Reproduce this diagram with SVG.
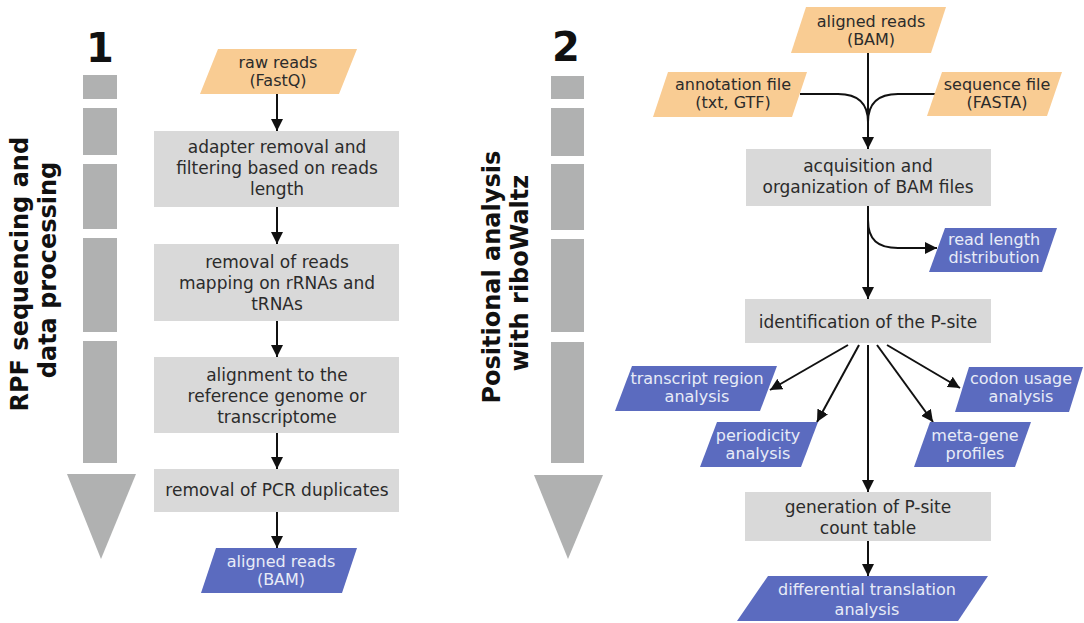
<svg xmlns="http://www.w3.org/2000/svg" width="1084" height="623" viewBox="0 0 1084 623">
  <defs>
    <style>
      .txt { font-family: "DejaVu Sans", Verdana, sans-serif; font-size: 17px; text-anchor: middle; fill: #2b2b2b; }
      .ptxt { font-family: "DejaVu Sans", Verdana, sans-serif; font-size: 16px; text-anchor: middle; fill: #2b2b2b; }
      .wtxt { font-family: "DejaVu Sans", Verdana, sans-serif; font-size: 16px; text-anchor: middle; fill: #e8ebf7; }
      .title { font-family: "DejaVu Sans", Verdana, sans-serif; font-weight: bold; text-anchor: middle; fill: #111; }
      .box { fill: #d9d9d9; }
      .inp { fill: #f9cc93; }
      .out { fill: #5b6bbf; }
      .bar { fill: #b0b1b1; }
      .link { fill: none; stroke: #111; stroke-width: 2; marker-end: url(#arrow); }
      .line { fill: none; stroke: #111; stroke-width: 2; }
    </style>
    <marker id="arrow" viewBox="0 0 12 12" refX="12" refY="6" markerWidth="12" markerHeight="12" markerUnits="userSpaceOnUse" orient="auto">
      <path d="M0,0 L12,6 L0,12 Z" fill="#111"/>
    </marker>
  </defs>

  <rect width="1084" height="623" fill="#ffffff"/>

  <!-- Stage 1 side bar -->
  <g id="stage1-bar">
    <text class="title" x="100" y="62" font-size="40">1</text>
    <rect class="bar" x="83" y="75" width="34" height="24"/>
    <rect class="bar" x="83" y="108" width="34" height="47"/>
    <rect class="bar" x="83" y="164" width="34" height="65"/>
    <rect class="bar" x="83" y="238" width="34" height="94"/>
    <rect class="bar" x="83" y="341" width="34" height="122"/>
    <polygon class="bar" points="67,474 136,474 101,559"/>
    <text class="title" font-size="24" transform="translate(28,270) rotate(-90)">
      <tspan x="0" y="0">RPF sequencing and</tspan>
      <tspan x="0" y="28">data processing</tspan>
    </text>
  </g>

  <!-- Stage 2 side bar -->
  <g id="stage2-bar">
    <text class="title" x="566" y="61" font-size="40">2</text>
    <rect class="bar" x="551" y="76" width="33" height="23"/>
    <rect class="bar" x="551" y="108" width="33" height="48"/>
    <rect class="bar" x="551" y="164" width="33" height="66"/>
    <rect class="bar" x="551" y="239" width="33" height="93"/>
    <rect class="bar" x="551" y="342" width="33" height="121"/>
    <polygon class="bar" points="534,475 603,475 568,559"/>
    <text class="title" font-size="24" transform="translate(500,273) rotate(-90)">
      <tspan x="0" y="0">Positional analysis</tspan>
      <tspan x="0" y="28">with riboWaltz</tspan>
    </text>
  </g>

  <!-- Connectors -->
  <g id="connectors">
    <!-- stage 1 chain -->
    <path class="link" d="M277,94 L277,131"/>
    <path class="link" d="M277,207 L277,244"/>
    <path class="link" d="M277,321 L277,357"/>
    <path class="link" d="M277,433 L277,469"/>
    <path class="link" d="M277,512 L277,548"/>
    <!-- stage 2 inputs merging -->
    <path class="line" d="M800,94 L838,94 C858,94 868,104 868,122"/>
    <path class="line" d="M935,94 L898,94 C878,94 868,104 868,122"/>
    <path class="link" d="M868,53 L868,149"/>
    <!-- acquisition outputs -->
    <path class="link" d="M868,206 L868,299"/>
    <path class="link" d="M868,206 L868,220 C868,240 878,248 898,248 L937,248"/>
    <!-- P-site outputs -->
    <path class="link" d="M848,345 L770,390"/>
    <path class="link" d="M859,345 L817,422"/>
    <path class="link" d="M868,345 L868,492"/>
    <path class="link" d="M877,345 L933,422"/>
    <path class="link" d="M887,345 L960,388"/>
    <path class="link" d="M868,541 L868,576"/>
  </g>

  <!-- Stage 1 nodes -->
  <g id="raw-reads">
    <path class="inp" d="M218,49 L357,49 L339,94 L200,94 Z"/>
    <text class="ptxt" x="278" y="68">raw reads</text>
    <text class="ptxt" x="278" y="86">(FastQ)</text>
  </g>
  <g id="adapter-removal">
    <rect class="box" x="154" y="131" width="245" height="76"/>
    <text class="txt" x="277" y="153">adapter removal and</text>
    <text class="txt" x="277" y="174">filtering based on reads</text>
    <text class="txt" x="277" y="195">length</text>
  </g>
  <g id="rrna-removal">
    <rect class="box" x="154" y="244" width="245" height="77"/>
    <text class="txt" x="277" y="268">removal of reads</text>
    <text class="txt" x="277" y="289">mapping  on rRNAs and</text>
    <text class="txt" x="277" y="310">tRNAs</text>
  </g>
  <g id="alignment">
    <rect class="box" x="154" y="357" width="245" height="76"/>
    <text class="txt" x="277" y="381">alignment to the</text>
    <text class="txt" x="277" y="402">reference genome or</text>
    <text class="txt" x="277" y="423">transcriptome</text>
  </g>
  <g id="pcr-removal">
    <rect class="box" x="154" y="469" width="245" height="43"/>
    <text class="txt" x="277" y="496">removal of PCR duplicates</text>
  </g>
  <g id="aligned-reads-out">
    <path class="out" d="M216,548 L357,548 L342,593 L201,593 Z"/>
    <text class="wtxt" x="281" y="567">aligned reads</text>
    <text class="wtxt" x="281" y="585">(BAM)</text>
  </g>

  <!-- Stage 2 nodes -->
  <g id="aligned-reads-in">
    <path class="inp" d="M806,7 L946,7 L931,53 L791,53 Z"/>
    <text class="ptxt" x="871" y="27">aligned reads</text>
    <text class="ptxt" x="871" y="45">(BAM)</text>
  </g>
  <g id="annotation-file">
    <path class="inp" d="M668,72 L807,72 L792,117 L653,117 Z"/>
    <text class="ptxt" x="733" y="90">annotation file</text>
    <text class="ptxt" x="733" y="108">(txt, GTF)</text>
  </g>
  <g id="sequence-file">
    <path class="inp" d="M942,72 L1062,72 L1047,116 L927,116 Z"/>
    <text class="ptxt" x="997" y="90">sequence file</text>
    <text class="ptxt" x="997" y="108">(FASTA)</text>
  </g>
  <g id="acquisition">
    <rect class="box" x="746" y="149" width="245" height="57"/>
    <text class="txt" x="868" y="172">acquisition and</text>
    <text class="txt" x="868" y="193">organization of BAM files</text>
  </g>
  <g id="read-length">
    <path class="out" d="M945,228 L1057,228 L1042,272 L929,272 Z"/>
    <text class="wtxt" x="994" y="245">read length</text>
    <text class="wtxt" x="994" y="263">distribution</text>
  </g>
  <g id="psite-identification">
    <rect class="box" x="745" y="299" width="246" height="44"/>
    <text class="txt" x="868" y="328">identification of the P-site</text>
  </g>
  <g id="transcript-region">
    <path class="out" d="M632,366 L777,366 L760,411 L615,411 Z"/>
    <text class="wtxt" x="697" y="384">transcript region</text>
    <text class="wtxt" x="697" y="402">analysis</text>
  </g>
  <g id="periodicity">
    <path class="out" d="M717,422 L818,422 L801,467 L700,467 Z"/>
    <text class="wtxt" x="758" y="441">periodicity</text>
    <text class="wtxt" x="758" y="459">analysis</text>
  </g>
  <g id="meta-gene">
    <path class="out" d="M930,422 L1031,422 L1015,467 L914,467 Z"/>
    <text class="wtxt" x="975" y="441">meta-gene</text>
    <text class="wtxt" x="975" y="459">profiles</text>
  </g>
  <g id="codon-usage">
    <path class="out" d="M969,367 L1083,367 L1069,412 L955,412 Z"/>
    <text class="wtxt" x="1021" y="384">codon usage</text>
    <text class="wtxt" x="1021" y="402">analysis</text>
  </g>
  <g id="count-table">
    <rect class="box" x="745" y="492" width="246" height="49"/>
    <text class="txt" x="868" y="513">generation of P-site</text>
    <text class="txt" x="868" y="534">count table</text>
  </g>
  <g id="differential-translation">
    <path class="out" d="M768,576 L988,576 L958,621 L737,621 Z"/>
    <text class="wtxt" x="867" y="595">differential translation</text>
    <text class="wtxt" x="867" y="615">analysis</text>
  </g>
</svg>
